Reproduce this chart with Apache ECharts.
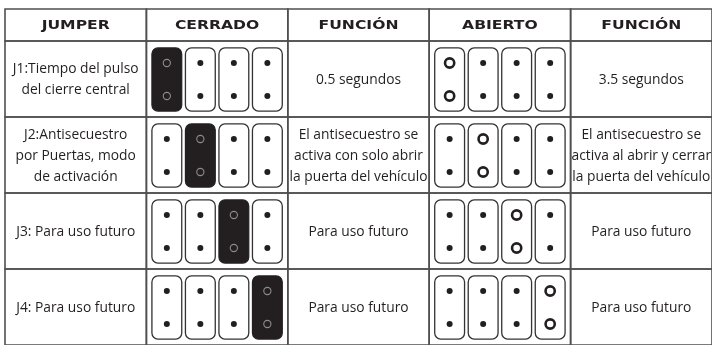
<!DOCTYPE html>
<html><head><meta charset="utf-8">
<script src="https://cdn.jsdelivr.net/npm/echarts@6/dist/echarts.min.js"></script>
<style>html,body{margin:0;padding:0;background:#fff}#c{width:712px;height:345px}</style>
</head><body><div id="c"></div>
<script>
// ---- data ----
const columns = ['JUMPER', 'CERRADO', 'FUNCIÓN', 'ABIERTO', 'FUNCIÓN'];
const rowKeys = ['J1', 'J2', 'J3', 'J4'];
const jumperNames = [
  'J1:Tiempo del pulso\ndel cierre central',
  'J2:Antisecuestro\npor Puertas, modo\nde activación',
  'J3: Para uso futuro',
  'J4: Para uso futuro'
];
const closedFunctions = [
  '0.5 segundos',
  'El antisecuestro se\nactiva con solo abrir\nla puerta del vehículo',
  'Para uso futuro',
  'Para uso futuro'
];
const openFunctions = [
  '3.5 segundos',
  'El antisecuestro se\nactiva al abrir y cerrar\nla puerta del vehículo',
  'Para uso futuro',
  'Para uso futuro'
];
const pinPositions = [0, 1, 2, 3];       // the four jumper positions in each diagram
const selectedPin = [0, 1, 2, 3];        // jumper position concerned in each row

// ---- styles ----
const INK = '#231f20';
const LINE = '#4f4f4f';
const FONT = '"Open Sans", sans-serif';
const HFONT = '"DejaVu Sans", sans-serif';

const textCols = {0: jumperNames, 2: closedFunctions, 4: openFunctions};

const headerData = columns.map((c, i) => [i, 0]);
const cellData = [];
rowKeys.forEach((k, r) => { for (let c = 0; c < columns.length; c++) cellData.push([c, r]); });
const pinData = [];
rowKeys.forEach((k, r) => {
  pinPositions.forEach(p => {
    const sel = p === selectedPin[r] ? 1 : 0;
    pinData.push([1, r, p, sel ? 1 : 0]); // CERRADO: 1 = bridged
    pinData.push([3, r, p, sel ? 2 : 0]); // ABIERTO: 2 = open ring
  });
});

function cellRect(api) {
  const c = api.coord([api.value(0), api.value(1)]);
  const s = api.size([1, 1]);
  return {cx: c[0], cy: c[1], w: s[0], h: s[1]};
}

const chart = echarts.init(document.getElementById('c'), null, {renderer: 'canvas'});
chart.setOption({
  animation: false,
  backgroundColor: '#fff',
  grid: [
    {left: 5, top: 9, width: 710, height: 32},
    {left: 5, top: 41, width: 710, height: 304}
  ],
  xAxis: [
    {type: 'category', gridIndex: 0, data: columns, show: false},
    {type: 'category', gridIndex: 1, data: columns, show: false}
  ],
  yAxis: [
    {type: 'category', gridIndex: 0, data: ['header'], show: false},
    {type: 'category', gridIndex: 1, data: rowKeys, inverse: true, show: false}
  ],
  series: [
    {
      type: 'custom', xAxisIndex: 0, yAxisIndex: 0, data: headerData,
      renderItem: function (params, api) {
        const r = cellRect(api);
        return {type: 'group', children: [
          {type: 'rect', shape: {x: r.cx - r.w / 2, y: r.cy - r.h / 2, width: r.w, height: r.h},
            style: {fill: 'none', stroke: LINE, lineWidth: 1.6}},
          {type: 'text', x: r.cx, y: r.cy + 1, scaleX: 1.2, style: {text: columns[params.dataIndex], fill: INK,
            fontFamily: HFONT, fontWeight: 'bold', fontSize: 13, align: 'center', verticalAlign: 'middle'}}
        ]};
      }
    },
    {
      type: 'custom', xAxisIndex: 1, yAxisIndex: 1, data: cellData,
      renderItem: function (params, api) {
        const r = cellRect(api);
        const col = api.value(0), row = api.value(1);
        const children = [
          {type: 'rect', shape: {x: r.cx - r.w / 2, y: r.cy - r.h / 2, width: r.w, height: r.h},
            style: {fill: 'none', stroke: LINE, lineWidth: 1.6}}
        ];
        if (textCols[col]) {
          children.push({type: 'text', x: r.cx, y: r.cy + 1, style: {text: textCols[col][row], fill: INK,
            fontFamily: FONT, fontSize: 13.8, lineHeight: 21, align: 'center', verticalAlign: 'middle'}});
        }
        return {type: 'group', children: children};
      }
    },
    {
      type: 'custom', xAxisIndex: 1, yAxisIndex: 1, data: pinData,
      renderItem: function (params, api) {
        const r = cellRect(api);
        const p = api.value(2), state = api.value(3);
        const x = r.cx + (p - 1.5) * 0.237 * r.w;
        const bw = 0.211 * r.w, bh = 0.83 * r.h;
        const y = r.cy + 0.5;
        const dy = 0.217 * r.h;
        const children = [];
        if (state === 1) {
          children.push({type: 'rect', shape: {x: x - bw / 2, y: y - bh / 2, width: bw, height: bh, r: 6},
            style: {fill: INK, stroke: INK, lineWidth: 1.2}});
          [-1, 1].forEach(d => children.push({type: 'circle', shape: {cx: x, cy: y + d * dy, r: 3.6},
            style: {fill: 'none', stroke: '#8c8c8c', lineWidth: 1.1}}));
        } else {
          children.push({type: 'rect', shape: {x: x - bw / 2, y: y - bh / 2, width: bw, height: bh, r: 6},
            style: {fill: '#fff', stroke: '#333', lineWidth: 1.3}});
          if (state === 2) {
            [-1, 1].forEach(d => children.push({type: 'circle', shape: {cx: x, cy: y + d * dy, r: 4.6},
              style: {fill: '#fff', stroke: INK, lineWidth: 2.6}}));
          } else {
            [-1, 1].forEach(d => children.push({type: 'circle', shape: {cx: x, cy: y + d * dy, r: 3},
              style: {fill: INK}}));
          }
        }
        return {type: 'group', children: children};
      }
    }
  ]
});
</script>
</body></html>
